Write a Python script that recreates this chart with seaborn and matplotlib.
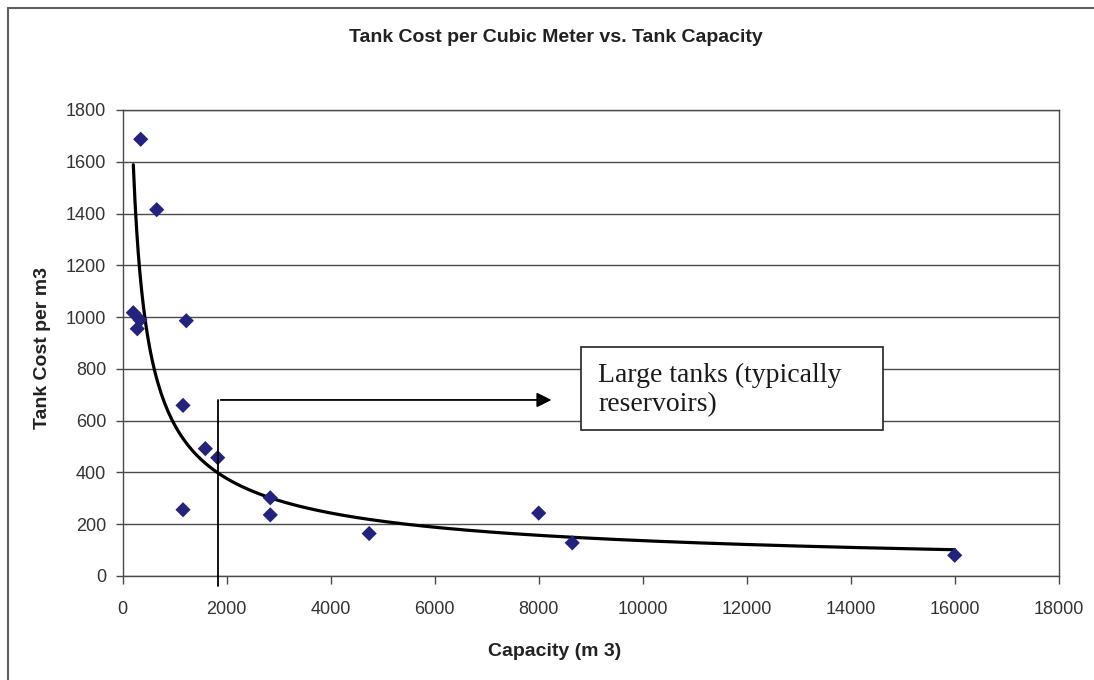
import numpy as np
import pandas as pd
import matplotlib
matplotlib.use("Agg")
import matplotlib.pyplot as plt
import seaborn as sns
from matplotlib.patches import Rectangle

# ---- data ----
capacity = [346, 654, 204, 333, 281, 1223, 1160, 1589, 1827, 1160, 2838, 2838, 4740, 8000, 8645, 16000]
cost = [1687, 1415, 1017, 989, 955, 986, 659, 492, 457, 256, 302, 236, 164, 243, 128, 80]

title = "Tank Cost per Cubic Meter vs. Tank Capacity"
xlabel = "Capacity (m 3)"
ylabel = "Tank Cost per m3"
note_lines = ["Large tanks (typically", "reservoirs)"]
x_ticks = list(range(0, 18001, 2000))
y_ticks = list(range(0, 1801, 200))

sns.set_theme(style="white")
plt.rcParams['font.family'] = ['Liberation Sans', 'DejaVu Sans']

W, H = 1094, 680
fig = plt.figure(figsize=(W / 100, H / 100), dpi=100)
fig.patch.set_facecolor('white')

def fx(px):
    return px / W

def fy(py):
    return 1 - py / H

ax = fig.add_axes([fx(122.7), fy(576), fx(1058.7) - fx(122.7), fy(110) - fy(576)])

df = pd.DataFrame({'Capacity': capacity, 'Cost': cost})

# power trendline fitted to the data (as Excel does)
b, lna = np.polyfit(np.log(df['Capacity']), np.log(df['Cost']), 1)
xs = np.linspace(df['Capacity'].min(), df['Capacity'].max(), 500)
trend = pd.DataFrame({'Capacity': xs, 'Cost': np.exp(lna) * xs ** b})

gridc = '#4a4a4a'
ax.set_xlim(0, 18000)
ax.set_ylim(0, 1800)
ax.set_xticks(x_ticks)
ax.set_yticks(y_ticks)
ax.yaxis.grid(True, color=gridc, lw=1.0)
ax.xaxis.grid(False)
ax.set_axisbelow(True)
for s in ax.spines.values():
    s.set_color(gridc)
    s.set_linewidth(1.0)

sns.lineplot(data=trend, x='Capacity', y='Cost', ax=ax, color='black', lw=2.3, zorder=3)
sns.scatterplot(data=df, x='Capacity', y='Cost', ax=ax, marker='D', s=60,
                color='#23237d', edgecolor='none', linewidth=0, zorder=4)

ax.set_xlabel('')
ax.set_ylabel('')
ax.tick_params(axis='both', which='major', direction='out', color=gridc, width=1.0,
               labelsize=13, labelcolor='#333333')
ax.tick_params(axis='y', length=5, pad=7, left=True)
ax.tick_params(axis='x', length=6, pad=12, bottom=True)

# annotation: bracket line with arrow
ax.plot([1830, 1830], [-40, 680], color='black', lw=1.3, clip_on=False, zorder=5)
ax.annotate('', xy=(8300, 680), xytext=(1830, 680),
            arrowprops=dict(arrowstyle='-|>', color='black', lw=1.3, mutation_scale=22),
            zorder=5)

# text box
ax.add_patch(Rectangle((8808, 564), 14615 - 8808, 886 - 564, facecolor='white',
                       edgecolor='#222222', lw=1.2, zorder=6))
ax.text(9146, 748, note_lines[0], family=['Liberation Serif', 'DejaVu Serif'], fontsize=20,
        va='baseline', ha='left', color='#1a1a1a', zorder=7)
ax.text(9146, 636, note_lines[1], family=['Liberation Serif', 'DejaVu Serif'], fontsize=20,
        va='baseline', ha='left', color='#1a1a1a', zorder=7)

# titles
fig.text(fx(556), fy(38), title, ha='center', va='center', fontsize=14,
         fontweight='bold', color='#222222')
fig.text(fx(555), fy(652), xlabel, ha='center', va='center', fontsize=14,
         fontweight='bold', color='#222222')
fig.text(fx(43), fy(348), ylabel, ha='center', va='center', fontsize=14,
         fontweight='bold', color='#222222', rotation=90)

# outer chart border (cut off at right/bottom)
fig.patches.append(Rectangle((fx(8), -0.1), 1.2, fy(8) + 0.1, transform=fig.transFigure,
                             fill=False, edgecolor='#606060', lw=1.5, figure=fig))

fig.savefig('out.png', dpi=100, facecolor='white')
